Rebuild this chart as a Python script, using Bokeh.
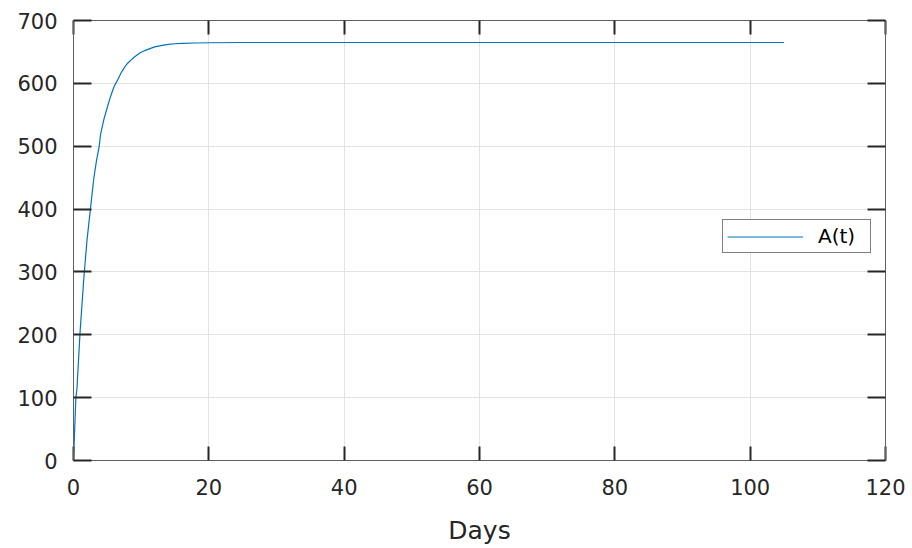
from bokeh.plotting import figure
from bokeh.models import FixedTicker, LinearAxis, Legend, LegendItem
from bokeh.embed import file_html
from bokeh.resources import INLINE

# A(t) over time (days)
days = [0, 0.35, 0.5, 0.95, 1.0, 1.5, 1.6, 2.0, 2.5, 3.0, 3.4, 3.8, 4.0, 4.5, 5.0,
        5.5, 6.0, 6.25, 6.6, 7.0, 7.4, 7.7, 8.0, 8.5, 9.0, 9.5, 9.9, 10.5, 11.0,
        12.0, 12.9, 14.0, 15.0, 16.0, 18.0, 20.0, 25.0, 30.0, 50.0, 80.0, 105.0]
a_values = [0, 100, 113, 200, 209, 286, 300, 351, 400, 449, 477, 500, 519, 543, 562,
            580, 595, 600, 607, 616, 623, 628, 632, 637, 642, 646, 649, 652, 654,
            658, 660, 662, 663, 663.5, 664.2, 664.6, 665, 665, 665, 665, 665]

x_ticks = [0, 20, 40, 60, 80, 100, 120]
y_ticks = [0, 100, 200, 300, 400, 500, 600, 700]

FONT = "DejaVu Sans"
TEXT = "#262626"
BLUE = "#0072BD"

p = figure(width=912, height=548, x_range=(0, 120), y_range=(0, 700),
           output_backend="svg", toolbar_location=None,
           min_border_left=73, min_border_right=27,
           min_border_top=20, min_border_bottom=88)
p.background_fill_color = "white"
p.border_fill_color = "white"
p.outline_line_color = "#606060"
p.outline_line_width = 1

line = p.line(days, a_values, line_color=BLUE, line_width=1.2)

def style_axis(ax, ticks, tick_in):
    ax.ticker = FixedTicker(ticks=ticks)
    ax.axis_line_color = "#606060"
    ax.major_tick_in = tick_in
    ax.major_tick_out = 0
    ax.major_tick_line_color = TEXT
    ax.major_tick_line_width = 2
    ax.minor_tick_line_color = None
    ax.major_label_text_font = FONT
    ax.major_label_text_font_size = "21px"
    ax.major_label_text_color = TEXT

style_axis(p.xaxis[0], x_ticks, 14)
style_axis(p.yaxis[0], y_ticks, 18)
p.xaxis[0].major_label_standoff = 18
p.yaxis[0].major_label_standoff = 16
p.xaxis[0].axis_label = "Days"
p.xaxis[0].axis_label_text_font = FONT
p.xaxis[0].axis_label_text_font_style = "normal"
p.xaxis[0].axis_label_text_font_size = "25px"
p.xaxis[0].axis_label_text_color = TEXT
p.xaxis[0].axis_label_standoff = 18

# mirrored tick marks on the top and right edges, without labels
top = LinearAxis()
right = LinearAxis()
style_axis(top, x_ticks, 14)
style_axis(right, y_ticks, 18)
for ax in (top, right):
    ax.major_label_text_font_size = "1px"
    ax.major_label_text_color = None
    ax.major_label_standoff = 0
p.add_layout(top, "above")
p.add_layout(right, "right")

for g, ticks in ((p.xgrid[0], x_ticks), (p.ygrid[0], y_ticks)):
    g.ticker = FixedTicker(ticks=ticks)
    g.grid_line_color = "#e3e3e3"
    g.grid_line_width = 1

legend = Legend(items=[LegendItem(label="A(t)", renderers=[line])],
                location=(649, 207))
legend.border_line_color = "black"
legend.border_line_width = 1.5
legend.padding = 4
legend.margin = 0
legend.spacing = 0
legend.glyph_width = 76
legend.glyph_height = 17
legend.label_height = 17
legend.label_width = 48
legend.label_standoff = 15
legend.label_text_font = FONT
legend.label_text_font_size = "20px"
legend.label_text_color = "black"
legend.background_fill_color = "white"
legend.background_fill_alpha = 1
p.add_layout(legend, "center")

open("out.html", "w").write(file_html(p, INLINE))
